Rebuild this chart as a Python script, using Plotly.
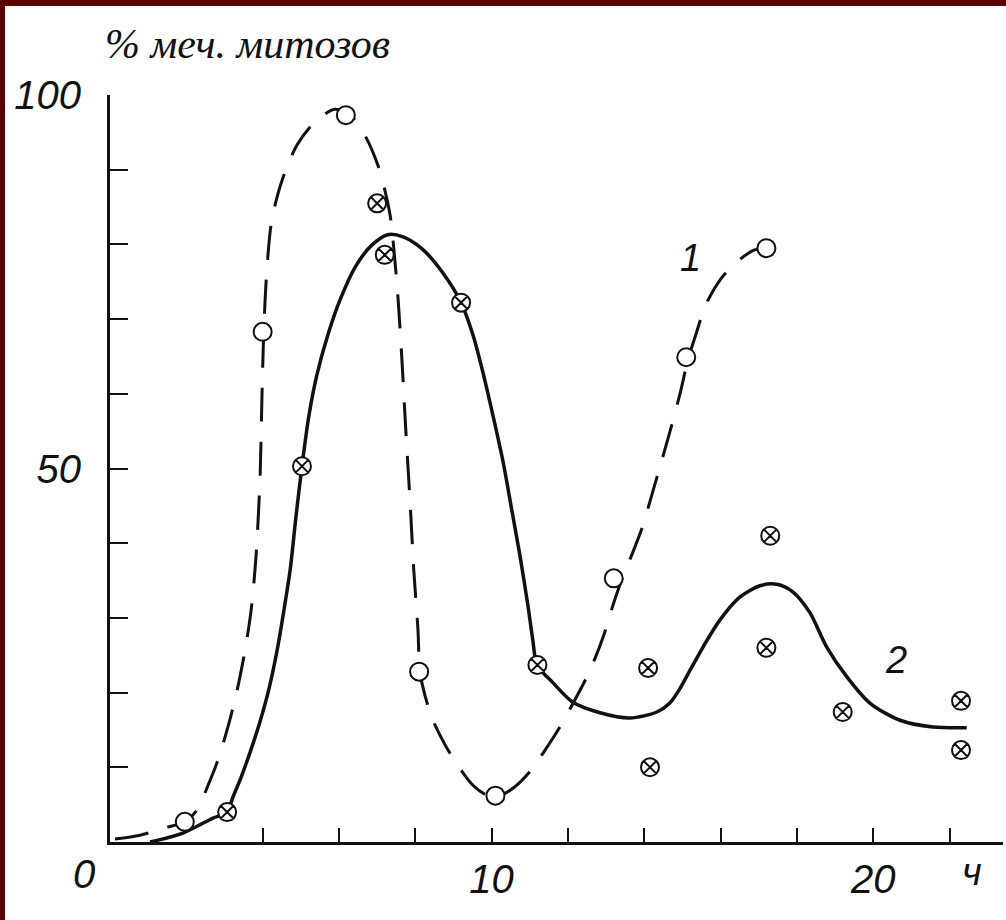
import plotly.graph_objects as go

# ---- observed points (read from the picture) ----
# series 1: open circles
s1_x = [1.96, 4.0, 6.18, 8.1, 10.1, 13.2, 15.1, 17.2]
s1_y = [2.7, 68.3, 97.3, 22.8, 6.2, 35.3, 64.9, 79.5]
# series 2: crossed circles
s2_x = [3.07, 5.03, 7.0, 7.2, 9.2, 11.2, 14.1, 14.15, 17.3, 17.2, 19.2, 22.3, 22.3]
s2_y = [4.0, 50.3, 85.5, 78.6, 72.2, 23.7, 23.3, 10.0, 41.0, 26.0, 17.4, 18.9, 12.3]

# ---- hand-drawn curves ----
curve1_x = [0.13, 0.79, 1.44, 1.96, 2.28, 2.57, 2.83, 3.09, 3.33, 3.54, 3.70, 3.82, 3.93,
            3.98, 4.03, 4.11, 4.24, 4.51, 4.90, 5.37, 5.89, 6.29, 6.68, 7.02, 7.20,
            7.34, 7.44, 7.55, 7.65, 7.75, 7.86, 7.96, 8.07, 8.12, 8.25, 8.46, 8.78,
            9.12, 9.51, 9.90, 10.22, 10.61, 11.0, 11.4, 11.79, 12.18, 12.58, 12.92,
            13.18, 13.41, 13.67, 13.94, 14.2, 14.46, 14.72, 14.96, 15.14, 15.35,
            15.61, 15.98, 16.37, 16.82, 17.16]
curve1_y = [0.4, 0.9, 1.9, 2.7, 4.3, 7.6, 11.0, 15.4, 20.3, 25.7, 31.1, 37.8, 48.5,
            59.2, 68.5, 76.6, 83.3, 88.6, 93.3, 96.4, 98.1, 97.3, 94.6, 90.6, 87.3,
            83.9, 79.3, 72.6, 64.5, 55.2, 45.8, 36.4, 28.4, 22.8, 19.7, 16.3, 13.0,
            10.2, 7.6, 6.2, 6.2, 7.4, 9.4, 12.3, 15.4, 19.0, 23.0, 27.4,
            31.7, 35.1, 38.4, 42.0, 46.5, 51.1, 55.8, 60.5, 64.5, 67.9,
            71.9, 75.2, 77.4, 79.1, 79.6]

curve2_x = [1.05, 1.91, 2.70, 3.07, 3.22, 3.43, 3.67, 3.93, 4.17, 4.38, 4.56, 4.72,
            4.87, 5.03, 5.21, 5.42, 5.71, 6.03, 6.44, 6.86, 7.28, 7.68, 8.20, 8.72,
            9.20, 9.51, 9.77, 10.03, 10.30, 10.53, 10.74, 10.95, 11.08, 11.19, 11.61,
            12.13, 12.84, 13.62, 14.33, 14.67, 14.93, 15.19, 15.54, 15.98, 16.51,
            17.03, 17.47, 17.89, 18.34, 18.78, 19.31, 19.91, 20.70, 21.56, 22.45]
curve2_y = [0.0, 1.2, 3.2, 4.0, 6.0, 8.6, 12.0, 16.1, 20.6, 25.7, 31.1, 36.4,
            43.4, 50.3, 57.0, 62.5, 67.9, 72.6, 77.1, 79.9, 81.3, 81.0, 79.3, 76.2,
            72.2, 67.9, 62.9, 57.2, 50.9, 44.4, 38.4, 31.7, 27.0, 23.7, 21.3,
            18.7, 17.3, 16.6, 17.4, 18.6, 20.5, 22.9, 26.1, 29.7, 32.8,
            34.3, 34.5, 33.5, 30.7, 26.1, 22.1, 18.6, 16.3, 15.4, 15.3]

# ---- axis ticks / labels ----
y_tickvals = [0, 10, 20, 30, 40, 50, 60, 70, 80, 90, 100]
y_ticktext = ["", "", "", "", "", "50", "", "", "", "", "100"]
x_tickvals = [4, 6, 8, 10, 12, 14, 16, 18, 20, 22]
x_ticktext = ["", "", "", "10", "", "", "", "", "20", ""]
y_title = "% меч. митозов"
x_unit = "ч"
curve_labels = ["1", "2"]
curve_label_x = [15.22, 20.59]
curve_label_y = [78.2, 24.4]

INK = "#111111"
HAND = "Liberation Sans, Arial, sans-serif"

fig = go.Figure()
fig.add_trace(go.Scatter(x=curve1_x, y=curve1_y, mode="lines",
                         line=dict(color=INK, width=3, dash="34px,20px",
                                   shape="spline", smoothing=0.8),
                         hoverinfo="skip", showlegend=False))
fig.add_trace(go.Scatter(x=curve2_x, y=curve2_y, mode="lines",
                         line=dict(color=INK, width=3.5, shape="spline", smoothing=0.8),
                         hoverinfo="skip", showlegend=False))
fig.add_trace(go.Scatter(x=s1_x, y=s1_y, mode="markers",
                         marker=dict(symbol="circle", size=18, color="white",
                                     line=dict(color=INK, width=2)),
                         showlegend=False))
fig.add_trace(go.Scatter(x=s2_x, y=s2_y, mode="markers",
                         marker=dict(symbol="circle-x", size=18, color="white",
                                     line=dict(color=INK, width=2)),
                         showlegend=False))

annotations = []
for t, ax_, ay_ in zip(curve_labels, curve_label_x, curve_label_y):
    annotations.append(dict(x=ax_, y=ay_, xref="x", yref="y", text=t, showarrow=False,
                            font=dict(family=HAND, size=38, color=INK, style="italic")))
# y axis title
annotations.append(dict(x=-0.008, y=1.068, xref="paper", yref="paper", text=y_title,
                        showarrow=False, xanchor="left", yanchor="middle",
                        font=dict(family="Liberation Serif, Times New Roman, serif",
                                  size=42, color=INK, style="italic")))
# origin "0" and unit label
annotations.append(dict(x=(84 - 110) / 893, y=(842 - 874) / 747, xref="paper", yref="paper",
                        text="0", showarrow=False, xanchor="center", yanchor="middle",
                        font=dict(family=HAND, size=40, color=INK, style="italic")))
annotations.append(dict(x=(972 - 110) / 893, y=(842 - 872) / 747, xref="paper", yref="paper",
                        text=x_unit, showarrow=False, xanchor="center", yanchor="middle",
                        font=dict(family=HAND, size=38, color=INK, style="italic")))

border = "#5a0000"
shapes = [
    dict(type="rect", xref="paper", yref="paper", x0=-0.2, x1=1.1,
         y0=(842 - 6) / 747, y1=1.2, fillcolor=border, line=dict(width=0), layer="above"),
    dict(type="rect", xref="paper", yref="paper", x0=-0.2, x1=(5 - 110) / 893,
         y0=-0.2, y1=1.2, fillcolor=border, line=dict(width=0), layer="above"),
]

fig.update_layout(
    width=1006, height=920,
    margin=dict(l=110, r=3, t=95, b=78),
    paper_bgcolor="white", plot_bgcolor="white",
    showlegend=False, hovermode=False,
    annotations=annotations, shapes=shapes,
    xaxis=dict(range=[0, 23.4], showgrid=False, zeroline=False,
               showline=True, linecolor=INK, linewidth=3,
               ticks="inside", ticklen=14, tickwidth=2, tickcolor=INK,
               tickvals=x_tickvals, ticktext=x_ticktext, ticklabelstandoff=0,
               tickfont=dict(family=HAND, size=40, color=INK, style="italic")),
    yaxis=dict(range=[0, 100], showgrid=False, zeroline=False,
               showline=True, linecolor=INK, linewidth=3,
               ticks="inside", ticklen=18, tickwidth=2, tickcolor=INK,
               tickvals=y_tickvals, ticktext=y_ticktext, ticklabelstandoff=18,
               tickfont=dict(family=HAND, size=40, color=INK, style="italic")),
)

fig.write_html("out.html", config={"displayModeBar": False},
               post_script="document.body.style.margin='0';")
